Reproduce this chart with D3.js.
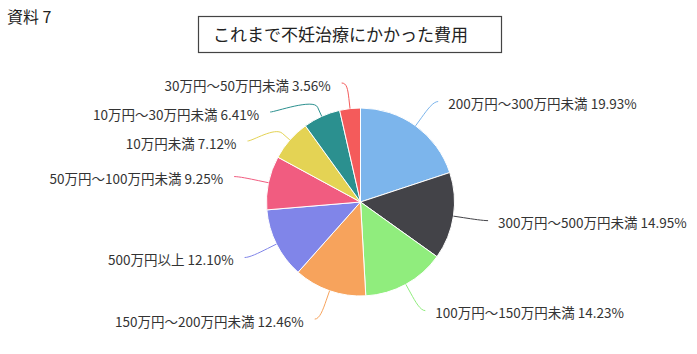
<!DOCTYPE html>
<html>
<head>
<meta charset="utf-8">
<script src="https://cdn.jsdelivr.net/npm/d3@7"></script>
<style>
  html, body { margin: 0; padding: 0; background: #ffffff; }
  svg { display: block; }
</style>
</head>
<body>
<script>
const width = 697;
const height = 354;

const categories = [
    "200万円～300万円未満",
    "300万円～500万円未満",
    "100万円～150万円未満",
    "150万円～200万円未満",
    "500万円以上",
    "50万円～100万円未満",
    "10万円未満",
    "10万円～30万円未満",
    "30万円～50万円未満"
];
const values = [19.93, 14.95, 14.23, 12.46, 12.10, 9.25, 7.12, 6.41, 3.56];
const colors = ["#7cb5ec", "#434348", "#90ed7d", "#f7a35c", "#8085e9", "#f15c80", "#e4d354", "#2b908f", "#f45b5b"];

const svg = d3.select("body").append("svg")
    .attr("width", width)
    .attr("height", height);

const font = "'Noto Sans CJK JP', 'Noto Sans', sans-serif";

// 資料番号
svg.append("text")
    .attr("x", 7)
    .attr("y", 23)
    .attr("font-family", font)
    .attr("font-size", 16)
    .attr("fill", "#222")
    .text("資料 7");

// タイトル枠
svg.append("rect")
    .attr("x", 198.5)
    .attr("y", 16.5)
    .attr("width", 303)
    .attr("height", 36)
    .attr("fill", "none")
    .attr("stroke", "#444")
    .attr("stroke-width", 1.2);

svg.append("text")
    .attr("x", 213)
    .attr("y", 41)
    .attr("font-family", font)
    .attr("font-size", 17)
    .attr("fill", "#222")
    .text("これまで不妊治療にかかった費用");

// 円グラフ
const cx = 360.5, cy = 202, r = 94, dist = 30, R = r + dist;
const gap = 29;
const minY = cy - R + 5;

const data = categories.map((c, i) => ({ name: c, value: values[i], color: colors[i] }));

const pie = d3.pie().sort(null).value(d => d.value);
const arc = d3.arc().innerRadius(0).outerRadius(r);
const arcs = pie(data);

const g = svg.append("g").attr("transform", `translate(${cx},${cy})`);

g.selectAll("path.slice")
    .data(arcs)
    .enter()
    .append("path")
    .attr("class", "slice")
    .attr("d", arc)
    .attr("fill", d => d.data.color)
    .attr("stroke", "#ffffff")
    .attr("stroke-width", 1);

// ラベル配置
arcs.forEach(a => {
    a.mid = (a.startAngle + a.endAngle) / 2;
    a.left = a.mid > Math.PI;
    a.nx = cx + R * Math.sin(a.mid);
    a.ny = cy - R * Math.cos(a.mid);
});

[true, false].forEach(side => {
    const list = arcs.filter(a => a.left === side).sort((p, q) => p.ny - q.ny);
    let prev = -Infinity;
    list.forEach(a => {
        a.y = Math.max(a.ny, prev + gap, minY);
        prev = a.y;
    });
    list.forEach((a, i) => {
        const yy = (i === 0 || i === list.length - 1) ? a.ny : a.y;
        const dy = Math.max(-R, Math.min(R, yy - cy));
        a.x = cx + (side ? -1 : 1) * Math.sqrt(R * R - dy * dy);
    });
});

const connector = (a) => {
    const s = a.left ? -1 : 1;
    const ex = cx + r * Math.sin(a.mid), ey = cy - r * Math.cos(a.mid);
    const bx = cx + (r + 10) * Math.sin(a.mid), by = cy - (r + 10) * Math.cos(a.mid);
    return `M${a.x + s * 5},${a.y} C${a.x},${a.y} ${2 * bx - ex},${2 * by - ey} ${bx},${by} L${ex},${ey}`;
};

svg.selectAll("path.conn")
    .data(arcs)
    .enter()
    .append("path")
    .attr("class", "conn")
    .attr("d", connector)
    .attr("fill", "none")
    .attr("stroke", d => d.data.color)
    .attr("stroke-width", 1);

svg.selectAll("text.lbl")
    .data(arcs)
    .enter()
    .append("text")
    .attr("class", "lbl")
    .attr("x", d => d.x + (d.left ? -16 : 15))
    .attr("y", d => d.y + 3)
    .attr("dy", "0.35em")
    .attr("text-anchor", d => d.left ? "end" : "start")
    .attr("font-family", font)
    .attr("font-size", 13.5)
    .attr("fill", "#333")
    .text(d => `${d.data.name} ${d.data.value.toFixed(2)}%`);
</script>
</body>
</html>
